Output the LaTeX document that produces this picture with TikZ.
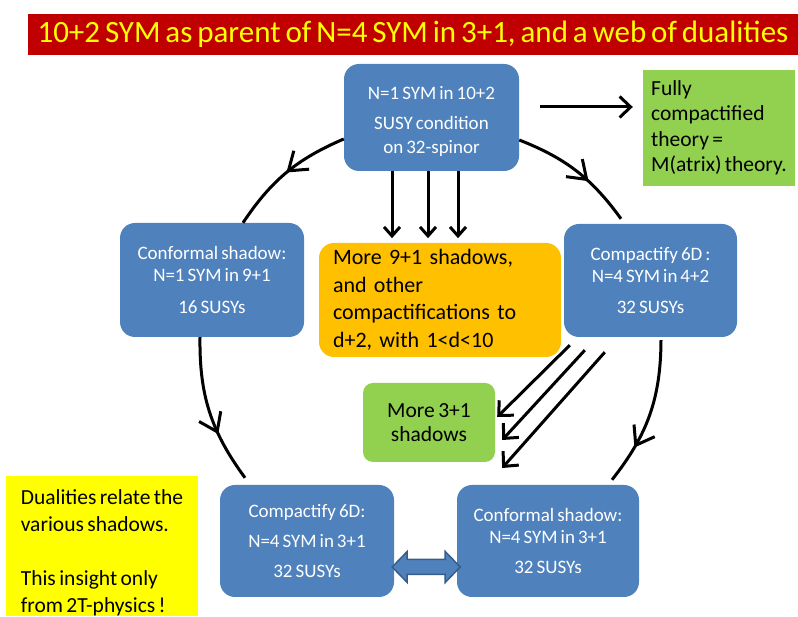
\documentclass[tikz,border=0pt]{standalone}
\usepackage{fontspec}
\setmainfont{Carlito}[WordSpace=0.7]
\usetikzlibrary{arrows.meta,decorations.markings}
\definecolor{bluebox}{HTML}{4F81BD}
\definecolor{blueedge}{HTML}{385D8A}
\definecolor{orangebox}{HTML}{FFC000}
\definecolor{greenbox}{HTML}{92D050}
\definecolor{titlered}{HTML}{C00000}
\definecolor{titleyellow}{HTML}{FFFF00}
\definecolor{notebox}{HTML}{FFFF00}
\begin{document}
\begin{tikzpicture}[x=1pt,y=1pt,
  bluenode/.style={rectangle, rounded corners=15pt, fill=bluebox, text=white, align=center, inner sep=0pt, font=\fontsize{19}{22}\selectfont},
  greennode/.style={rectangle, fill=greenbox, text=black, inner sep=0pt, font=\fontsize{21.5}{25.5}\selectfont},
  curv/.style={line width=3pt, postaction={decorate}, decoration={markings, mark=at position #1 with {\arrow{Straight Barb[length=17pt,width=24pt]}}}},
  curv/.default=0.5,
  arrV/.style={line width=3pt, -{Straight Barb[length=9pt,width=16pt]}},
  arrH/.style={line width=3pt, -{Straight Barb[length=11pt,width=21pt]}},
  arrD/.style={line width=3pt, -{Straight Barb[length=11pt,width=21pt]}},
  dbl/.style={fill=bluebox, draw=blueedge, line width=1.5pt, line join=miter}
]
\useasboundingbox (0,0) rectangle (798,617);

% title
\node[fill=titlered, text=titleyellow, minimum width=770pt, minimum height=41pt, inner sep=0pt,
      font=\fontsize{31}{33}\selectfont] (title) at (413,582.5)
  {10+2 SYM as parent of N=4 SYM in 3+1, and a web of dualities};

% blue nodes
\node[bluenode, minimum width=175pt, minimum height=107pt] (top) at (431.5,499.5)
  {\rule{0pt}{22pt}N=1 SYM in 10+2\\[8pt] SUSY condition\\[2pt] on 32-spinor};
\node[bluenode, minimum width=184pt, minimum height=114pt] (lt) at (212,337)
  {Conformal shadow:\\ N=1 SYM in 9+1\\[10pt] 16 SUSYs};
\node[bluenode, minimum width=173pt, minimum height=113pt] (rt) at (650.5,336.5)
  {Compactify 6D :\\ N=4 SYM in 4+2\\[9pt] 32 SUSYs};
\node[bluenode, minimum width=174pt, minimum height=112pt] (bl) at (307,76)
  {Compactify 6D:\\[8pt] N=4 SYM in 3+1\\[8pt] 32 SUSYs};
\node[bluenode, minimum width=182pt, minimum height=112pt] (br) at (548,76)
  {Conformal shadow:\\ N=4 SYM in 3+1\\[8pt] 32 SUSYs};

% orange node
\node[rectangle, rounded corners=15pt, fill=orangebox, text=black, align=left,
      inner xsep=14pt, inner ysep=0pt, text width=214pt, minimum height=114pt,
      font=\fontsize{22}{27.5}\selectfont] (or) at (440,317)
  {More 9+1 shadows,\\ and other\\ compactifications to\\ d+2, with 1<d<10};

% green nodes
\node[greennode, align=left, minimum width=152pt, minimum height=116pt] (tr) at (719,489)
  {Fully\\ compactified\\ theory =\\ M(atrix) theory.};
\node[greennode, rounded corners=10pt, align=center, minimum width=132pt, minimum height=79pt,
      font=\fontsize{21.5}{24}\selectfont] (gm) at (429,194.5)
  {More 3+1\\ shadows};

% yellow note
\node[rectangle, fill=notebox, text=black, align=left, inner sep=0pt, minimum width=192pt, minimum height=138pt,
      font=\fontsize{21.5}{27}\selectfont] (note) at (102,71)
  {\rule{0pt}{29pt}Dualities relate the\\ various shadows.\\[27pt] This insight only\\ from 2T-physics !};

% circular web arrows
\draw[curv=0.5] ([yshift=-21.5pt]top.west) to[bend right=16.5] ([xshift=31pt]lt.north);
\draw[curv=0.66] ([xshift=-12pt]lt.south) to[bend right=18.5] ([shift={(-62pt,7pt)}]bl.north);
\draw[curv=0.62] ([yshift=-22.5pt]top.east) to[bend left=16.3] ([shift={(-29.5pt,5pt)}]rt.north);
\draw[curv=0.74] ([shift={(10.5pt,-3pt)}]rt.south) to[bend left=19] ([shift={(64pt,5pt)}]br.north);

% straight arrows
\draw[arrH] ([shift={(21pt,10.5pt)}]top.east) -- ([shift={(-10pt,21pt)}]tr.west);
\foreach \dx in {-39.5,-3.5,26.5}
  \draw[arrV] ([xshift=\dx pt]top.south) -- ([xshift=\dx pt, yshift=-67pt]top.south);
\draw[arrD] ([shift={(6pt,-8pt)}]rt.south west) -- ([shift={(2pt,5.5pt)}]gm.east);
\draw[arrD] ([shift={(21pt,-13pt)}]rt.south west) -- ([shift={(7pt,-17.5pt)}]gm.east);
\draw[arrD] ([shift={(41pt,-15pt)}]rt.south west) -- ([shift={(7pt,-45.5pt)}]gm.east);

% double arrow between bottom nodes
\draw[dbl] ([shift={(-2pt,-26pt)}]bl.east) -- ++(15,15.5) -- ++(0,-8) -- ++(38,0) -- ++(0,8)
  -- ++(15,-15.5) -- ++(-15,-15.5) -- ++(0,8) -- ++(-38,0) -- ++(0,-8) -- cycle;
\end{tikzpicture}
\end{document}
